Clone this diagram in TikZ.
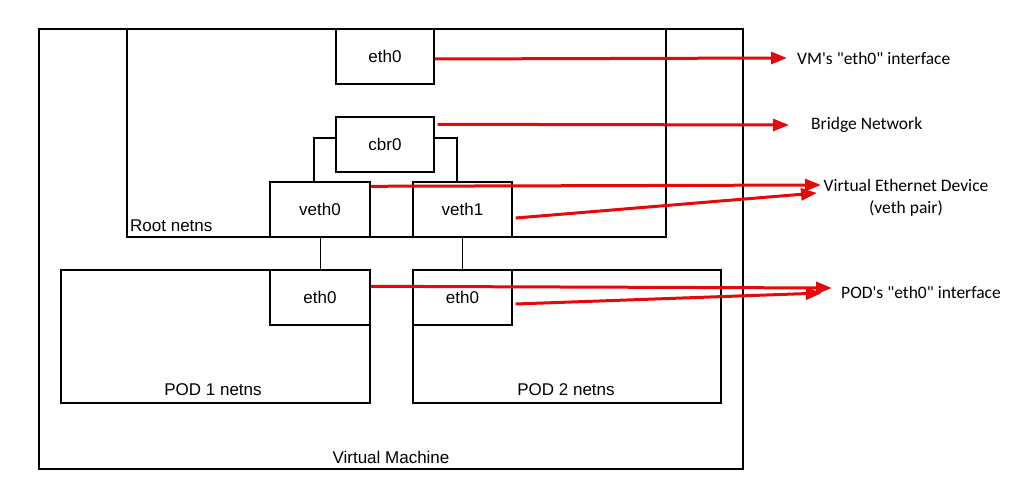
\documentclass[tikz,border=0pt]{standalone}
\usepackage{fontspec}
\setmainfont{Liberation Sans}
\newfontfamily\calibri{Carlito}
\usetikzlibrary{arrows.meta,calc}
\begin{document}
\begin{tikzpicture}[x=1pt,y=-1pt,
  frame/.style={draw,line width=1.4pt,inner sep=0pt,font=\fontsize{17}{20}\selectfont},
  lbl/.style={inner sep=0pt,font=\fontsize{17}{20}\selectfont},
  rlbl/.style={inner sep=0pt,font=\calibri\fontsize{17.5}{21}\selectfont},
  thin/.style={line width=0.6pt},
  redarrow/.style={draw={rgb,255:red,228;green,10;blue,10},line width=3pt,
    -{Triangle[length=16pt,width=12pt]}}]
\useasboundingbox (0,0) rectangle (1014,481);
\fill[white] (0,0) rectangle (1014,481);
% containers
\node[frame,minimum width=704,minimum height=440] (vm) at (391,249) {};
\node[frame,minimum width=539,minimum height=208] (root) at (396.5,133) {};
\node[frame,minimum width=309,minimum height=133] (pod1) at (215.5,336.5) {};
\node[frame,minimum width=308,minimum height=133] (pod2) at (567,336.5) {};
% interfaces
\node[frame,fill=white,minimum width=98,minimum height=55] (vmeth) at (385,56.5) {eth0};
\node[frame,minimum width=98,minimum height=55] (cbr) at (385,144.5) {cbr0};
\node[frame,minimum width=100,minimum height=55] (veth0) at (320,209.5) {veth0};
\node[frame,minimum width=99,minimum height=55] (veth1) at (462.5,209.5) {veth1};
\node[frame,minimum width=100,minimum height=55] (p1eth) at (320,297.5) {eth0};
\node[frame,minimum width=99,minimum height=55] (p2eth) at (462.5,297.5) {eth0};
% container labels
\node[lbl,anchor=west] (rootlbl) at (130,226) {Root netns};
\node[lbl] (pod1lbl) at (213,390) {POD 1 netns};
\node[lbl] (pod2lbl) at (566,390) {POD 2 netns};
\node[lbl] (vmlbl) at (391,457) {Virtual Machine};
% black connectors
\draw[line width=1.4pt] ([yshift=6.5pt]cbr.west) -| ([xshift=-6pt]veth0.north);
\draw[line width=1.4pt] ([yshift=6.5pt]cbr.east) -| ([xshift=-5.5pt]veth1.north);
\draw[thin] (veth0.south) -- (p1eth.north);
\draw[thin] (veth1.south) -- (p2eth.north);
% right labels
\node[rlbl,anchor=west] (lvm) at (797,58) {VM\textquotesingle s "eth0" interface};
\node[rlbl,anchor=west] (lbr) at (811,125) {Bridge Network};
\node[rlbl,align=center] (lveth) at (906,198) {Virtual Ethernet Device\\[1pt](veth pair)};
\node[rlbl,anchor=west] (lpod) at (841,292) {POD\textquotesingle s "eth0" interface};
% arrow targets
\coordinate (t1) at (787,58);
\coordinate (t2) at (789,125);
\coordinate (t3) at (821,185);
\coordinate (t4) at (817,193);
\coordinate (t5) at (832,288);
\coordinate (t6) at (822,293);
% red arrows
\draw[redarrow] ([yshift=-2.5pt]vmeth.east) -- (t1);
\draw[redarrow] ([xshift=3pt,yshift=-8pt]cbr.north east) -- (t2);
\draw[redarrow] ([yshift=-5pt]veth0.north east) -- (t3);
\draw[redarrow] ([xshift=3pt,yshift=-8.5pt]veth1.east) -- (t4);
\draw[redarrow] ([yshift=-17pt]p1eth.north east) -- (t5);
\draw[redarrow] ([xshift=3pt,yshift=-6.5pt]p2eth.east) -- (t6);
\end{tikzpicture}
\end{document}
